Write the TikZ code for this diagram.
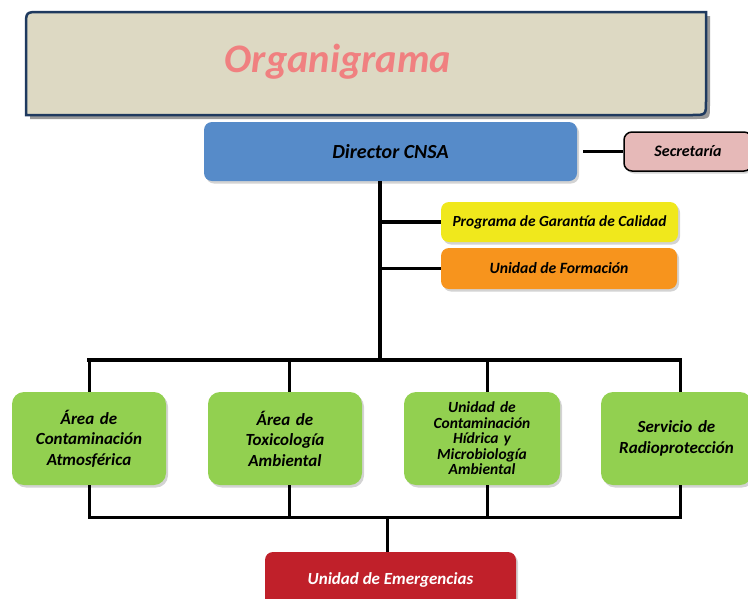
\documentclass[tikz,border=0pt]{standalone}
\usepackage{fontspec}
\setmainfont{Carlito}
\usetikzlibrary{shadows}

\definecolor{titlefill}{RGB}{221,217,195}
\definecolor{titleline}{RGB}{31,58,95}
\definecolor{titletext}{RGB}{240,128,128}
\definecolor{dirblue}{RGB}{86,139,201}
\definecolor{secpink}{RGB}{230,185,184}
\definecolor{qyellow}{RGB}{240,232,28}
\definecolor{forange}{RGB}{247,148,29}
\definecolor{areagreen}{RGB}{146,208,80}
\definecolor{emred}{RGB}{192,32,42}

\tikzset{
  unit/.style={rounded corners=8pt, inner sep=2pt, align=center,
    font=\bfseries\itshape,
    drop shadow={shadow xshift=2pt, shadow yshift=-2.5pt, opacity=.35}},
  area/.style={unit, fill=areagreen, rounded corners=12pt,
    minimum width=154pt, minimum height=93pt, text width=146pt},
  link/.style={line width=3.5pt},
  sublink/.style={line width=3pt},
}

\begin{document}
\begin{tikzpicture}[x=1pt,y=-1pt]
  \useasboundingbox (0,0) rectangle (748,598);
  \clip (0,0) rectangle (748,598);

  % title
  \fill[black!40] (30,119) -- (30,30) .. controls (30,16) .. (44,16) -- (710,16)
    -- (710,105) .. controls (710,119) .. (696,119) -- cycle;
  \draw[line width=2.5pt, titleline, fill=titlefill] (26,115) -- (26,26)
    .. controls (26,12) .. (40,12) -- (706,12) -- (706,101)
    .. controls (706,115) .. (692,115) -- cycle;
  \node[text=titletext, font=\fontsize{40.5}{46}\bfseries\itshape\selectfont]
    (title) at (338,62) {Organigrama};

  % top level
  \node[unit, fill=dirblue, minimum width=373pt, minimum height=59pt,
    font=\fontsize{20}{24}\bfseries\itshape\selectfont] (dir) at (390.5,151.5) {Director CNSA};
  \node[unit, fill=secpink, draw=black, line width=1.5pt, minimum width=128pt,
    minimum height=39pt, font=\fontsize{16}{19}\bfseries\itshape\selectfont]
    (sec) at (688,151.5) {Secretaría};
  \node[unit, fill=qyellow, minimum width=237pt, minimum height=40pt,
    font=\fontsize{15.4}{18}\bfseries\itshape\selectfont]
    (qual) at (559.5,222) {Programa de Garantía de Calidad};
  \node[unit, fill=forange, minimum width=236pt, minimum height=41pt,
    font=\fontsize{15.7}{18}\bfseries\itshape\selectfont]
    (form) at (559,268.5) {Unidad de Formación};

  % areas
  \node[area, font=\fontsize{17}{20.5}\bfseries\itshape\selectfont] (atm) at (89,438.5)
    {Área de\\Contaminación\\Atmosférica};
  \node[area, font=\fontsize{17}{20.5}\bfseries\itshape\selectfont] (tox) at (285,438.5)
    {Área de\\Toxicología\\Ambiental};
  \node[area, minimum width=156pt, font=\fontsize{15.5}{15.5}\bfseries\itshape\selectfont]
    (hid) at (482,438.5) {Unidad de\\Contaminación\\Hídrica y\\Microbiología\\Ambiental};
  \node[area, minimum width=151pt, font=\fontsize{17}{20.5}\bfseries\itshape\selectfont]
    (rad) at (676.5,438.5) {Servicio de\\Radioprotección};

  \node[unit, fill=emred, text=white, minimum width=251pt, minimum height=56pt,
    font=\fontsize{17}{20}\bfseries\itshape\selectfont] (emer) at (390.5,580) {Unidad de Emergencias};

  % connectors
  \coordinate (trunk) at (380,360);
  \coordinate (t1) at (89,360);
  \coordinate (t2) at (289,360);
  \coordinate (t3) at (487,360);
  \coordinate (t4) at (680,360);
  \coordinate (b1) at (89,517);
  \coordinate (b4) at (680,517);
  \coordinate (bmid) at (387,517);

  \draw[sublink] (dir.east |- sec) ++(6,0) coordinate (secstart) -- (sec.west);
  \draw[link] (trunk |- dir.south) -- (trunk);
  \draw[link] (trunk |- qual) -- (qual.west);
  \draw[link] (trunk |- form) -- (form.west);
  \draw[link, line cap=rect] (t1) -- (t4);
  \foreach \t/\a in {t1/atm, t2/tox, t3/hid, t4/rad} {
    \draw[sublink] (\t) -- (\t |- \a.north);
    \draw[sublink] (\t |- \a.south) -- (\t |- b1);
  }
  \draw[sublink, line cap=rect] (b1) -- (b4);
  \draw[sublink] (bmid) -- (bmid |- emer.north);
\end{tikzpicture}
\end{document}
